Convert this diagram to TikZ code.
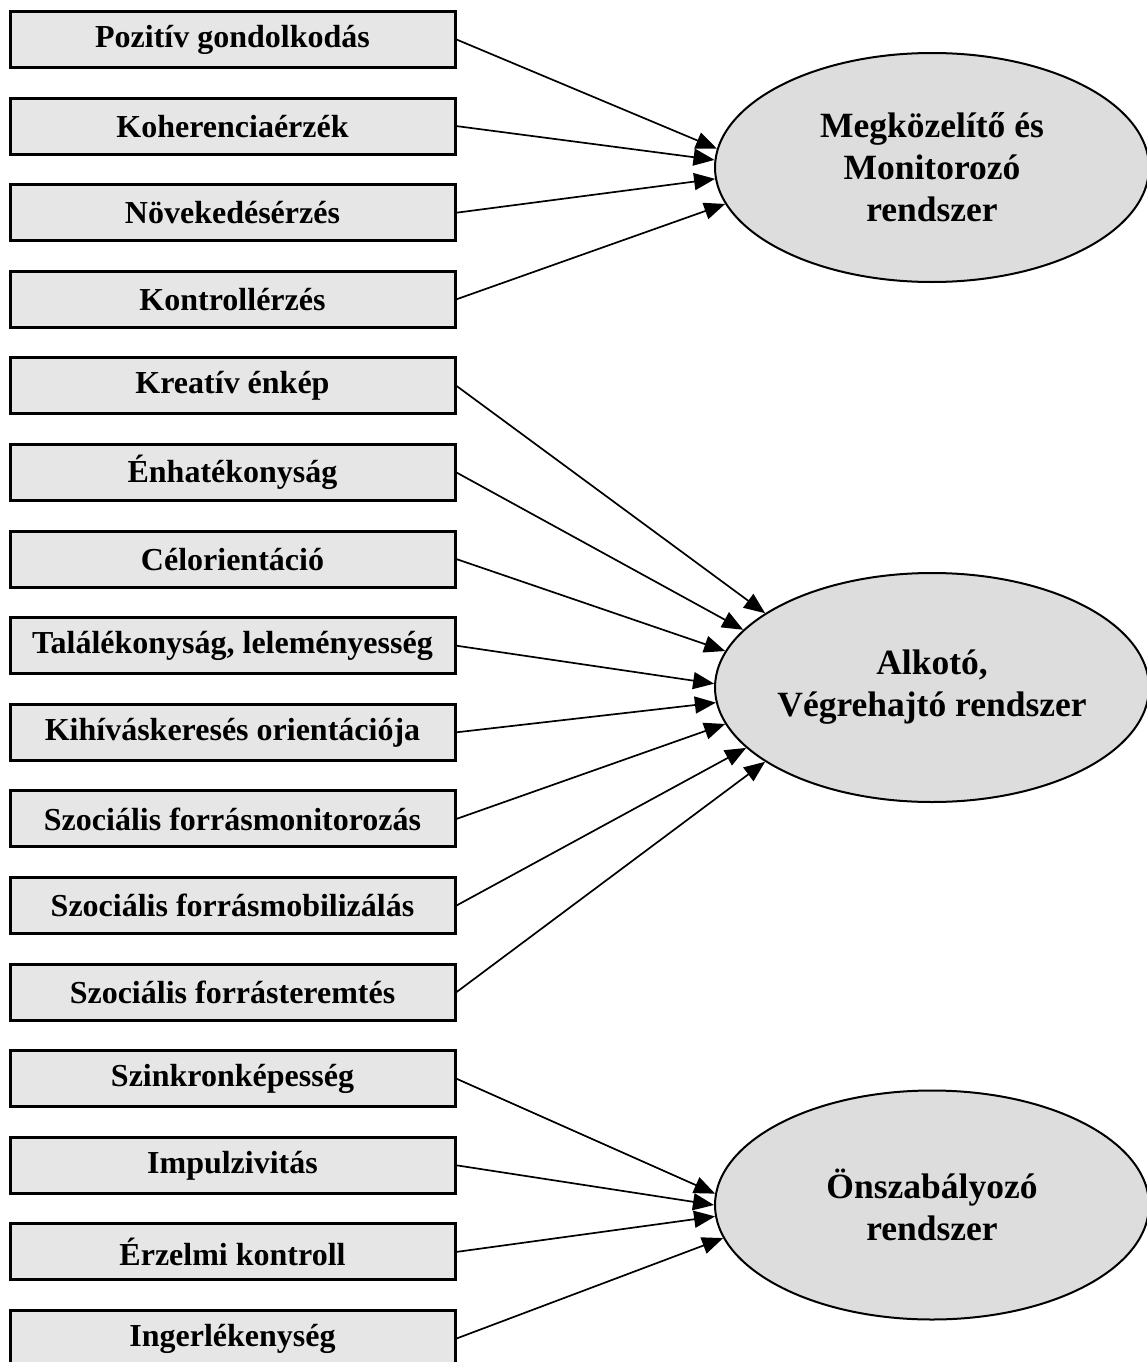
\documentclass[tikz,border=0pt]{standalone}
\usepackage{fontspec}
\setmainfont{Liberation Serif}
\usetikzlibrary{arrows.meta,shapes.geometric}
\definecolor{cajagris}{HTML}{E6E6E6}
\definecolor{elipsegris}{HTML}{DDDDDD}
\tikzset{
  caja/.style={draw, line width=3pt, fill=cajagris, minimum width=445pt,
    minimum height=56pt, inner sep=0pt, font=\fontsize{32}{36}\selectfont\bfseries},
  sistema/.style={ellipse, draw, line width=2pt, fill=elipsegris, minimum width=434pt,
    minimum height=229pt, inner xsep=-20pt, inner ysep=0pt, align=center,
    font=\fontsize{35.5}{42}\selectfont\bfseries},
  flecha/.style={line width=1.7pt, -{Triangle[length=21pt,width=17pt]}}
}
\begin{document}
\begin{tikzpicture}[x=1pt,y=-1pt]
                \useasboundingbox (0,0) rectangle (1147,1362);

                % Sistemas
                \node[sistema] (mm) at (932,167.5) {Megközelítő és\\Monitorozó\\rendszer};
                \node[sistema] (av) at (932,687.5) {Alkotó,\\Végrehajtó rendszer};
                \node[sistema] (on) at (932,1205) {Önszabályozó\\rendszer};

                % Cajas, grupo 1
                \node[caja] (pg) at (232.5,39.5) {Pozitív gondolkodás};
                \node[caja] (ko) at (232.5,126.1) {Koherenciaérzék};
                \node[caja] (no) at (232.5,212.7) {Növekedésérzés};
                \node[caja] (kt) at (232.5,299.3) {Kontrollérzés};

                % Cajas, grupo 2
                \node[caja] (ke) at (232.5,385.9) {Kreatív énkép};
                \node[caja] (en) at (232.5,472.5) {Énhatékonyság};
                \node[caja] (ce) at (232.5,559.1) {Célorientáció};
                \node[caja] (ta) at (232.5,645.7) {Találékonyság, leleményesség};
                \node[caja] (kh) at (232.5,732.3) {Kihíváskeresés orientációja};
                \node[caja] (sm) at (232.5,818.9) {Szociális forrásmonitorozás};
                \node[caja] (sb) at (232.5,905.5) {Szociális forrásmobilizálás};
                \node[caja] (st) at (232.5,992.1) {Szociális forrásteremtés};

                % Cajas, grupo 3
                \node[caja] (sz) at (232.5,1078.7) {Szinkronképesség};
                \node[caja] (im) at (232.5,1165.3) {Impulzivitás};
                \node[caja] (er) at (232.5,1251.9) {Érzelmi kontroll};
                \node[caja] (in) at (232.5,1338.5) {Ingerlékenység};

                % Flechas hacia mm
                \draw[flecha] (pg.east) -- (mm.175);
                \draw[flecha] (ko.east) -- (mm.178);
                \draw[flecha] (no.east) -- (mm.183);
                \draw[flecha] (kt.east) -- (mm.190);

                % Flechas hacia av
                \draw[flecha] (ke.east) -- (av.156);
                \draw[flecha] (en.east) -- (av.163);
                \draw[flecha] (ce.east) -- (av.170.5);
                \draw[flecha] (ta.east) -- (av.179.3);
                \draw[flecha] (kh.east) -- (av.184);
                \draw[flecha] (sm.east) -- (av.190.5);
                \draw[flecha] (sb.east) -- (av.198);
                \draw[flecha] (st.east) -- (av.204.5);

                % Flechas hacia on
                \draw[flecha] (sz.east) -- (on.177);
                \draw[flecha] (im.east) -- (on.180);
                \draw[flecha] (er.east) -- (on.183.5);
                \draw[flecha] (in.east) -- (on.189);
\end{tikzpicture}
\end{document}
